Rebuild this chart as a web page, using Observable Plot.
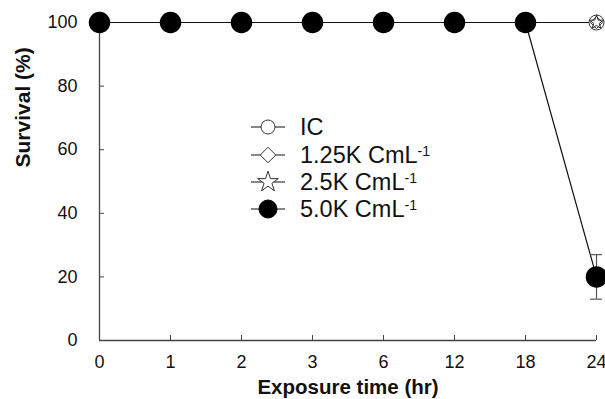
<!DOCTYPE html>
<html>
<head>
<meta charset="utf-8">
<script src="https://cdn.jsdelivr.net/npm/d3@7"></script>
<script src="https://cdn.jsdelivr.net/npm/@observablehq/plot@0.6"></script>
<style>
  html, body { margin: 0; padding: 0; background: #fff; }
  #wrap { position: relative; width: 605px; height: 399px; font-family: "Liberation Sans", Arial, sans-serif; }
  #legend { position: absolute; left: 0; top: 0; }
</style>
</head>
<body>
<div id="wrap"></div>
<script>
const times = ["0", "1", "2", "3", "6", "12", "18", "24"];
const seriesNames = ["IC", "1.25K CmL", "2.5K CmL", "5.0K CmL"];
const icValues = [100, 100, 100, 100, 100, 100, 100, 100];
const k125Values = [100, 100, 100, 100, 100, 100, 100, 100];
const k25Values = [100, 100, 100, 100, 100, 100, 100, 100];
const k50Values = [100, 100, 100, 100, 100, 100, 100, 20];
const k50Errors = [0, 0, 0, 0, 0, 0, 0, 7];
const yTicks = [0, 20, 40, 60, 80, 100];

const toRows = (name, vals, errs) => times.map((t, i) => ({
  series: name, time: t, value: vals[i], err: errs ? errs[i] : 0
}));
const icRows = toRows("IC", icValues);
const k125Rows = toRows("1.25K CmL", k125Values);
const k25Rows = toRows("2.5K CmL", k25Values);
const k50Rows = toRows("5.0K CmL", k50Values, k50Errors);
const errRows = k50Rows.filter(d => d.err > 0);

const font = "Liberation Sans, Arial, sans-serif";
const axisColor = "#444";

const plot = Plot.plot({
  width: 605,
  height: 399,
  marginLeft: 99,
  marginRight: 9,
  marginTop: 22,
  marginBottom: 59,
  style: { fontFamily: font, fontSize: "18px", color: "#111", background: "white" },
  x: { type: "point", domain: times, padding: 0, label: null },
  y: { domain: [0, 100], label: null },
  marks: [
    Plot.ruleY([0], { stroke: axisColor, strokeWidth: 1.3 }),
    Plot.ruleX([times[0]], { stroke: axisColor, strokeWidth: 1.3 }),
    Plot.axisX({ tickSize: -5, tickPadding: 20, stroke: axisColor, fontSize: 18, label: null }),
    Plot.axisY({ ticks: yTicks, tickSize: -5, tickPadding: 27, stroke: axisColor, fontSize: 18, label: null }),
    Plot.text(["Exposure time (hr)"], { frameAnchor: "bottom", dy: 47, text: d => d, fontWeight: "bold", fontSize: 20.5, lineAnchor: "middle" }),
    Plot.text(["Survival (%)"], { frameAnchor: "left", dx: -76, dy: -14, rotate: -90, text: d => d, fontWeight: "bold", fontSize: 21 }),
    // lines
    Plot.line(icRows, { x: "time", y: "value", stroke: "#111", strokeWidth: 1.2 }),
    Plot.line(k125Rows, { x: "time", y: "value", stroke: "#111", strokeWidth: 1.2 }),
    Plot.line(k25Rows, { x: "time", y: "value", stroke: "#111", strokeWidth: 1.2 }),
    Plot.line(k50Rows, { x: "time", y: "value", stroke: "#111", strokeWidth: 1.2 }),
    // error bars
    Plot.ruleX(errRows, { x: "time", y1: d => d.value - d.err, y2: d => d.value + d.err, stroke: "#555", strokeWidth: 1.2 }),
    Plot.ruleY(errRows, { x1: "time", x2: "time", y: d => d.value + d.err, insetLeft: -6, insetRight: -6, stroke: "#555", strokeWidth: 1.2 }),
    Plot.ruleY(errRows, { x1: "time", x2: "time", y: d => d.value - d.err, insetLeft: -6, insetRight: -6, stroke: "#555", strokeWidth: 1.2 }),
    // open markers
    Plot.dot(icRows, { x: "time", y: "value", symbol: "circle", r: 7.5, stroke: "#333", fill: "white", strokeWidth: 1 }),
    Plot.dot(k125Rows, { x: "time", y: "value", symbol: "diamond2", r: 5.5, stroke: "#333", fill: "none", strokeWidth: 1 }),
    Plot.dot(k25Rows, { x: "time", y: "value", symbol: "star", r: 4.5, stroke: "#333", fill: "none", strokeWidth: 1 }),
    // filled markers
    Plot.dot(k50Rows, { x: "time", y: "value", symbol: "circle", r: 10, fill: "black", stroke: "black" })
  ]
});

const wrap = document.getElementById("wrap");
wrap.appendChild(plot);

// legend overlay
const legendItems = [
  { label: "IC", sup: false, type: d3.symbolCircle, r: 7, fill: "white" },
  { label: "1.25K CmL", sup: true, type: d3.symbolDiamond2, r: 7, fill: "white" },
  { label: "2.5K CmL", sup: true, type: d3.symbolStar, r: 6.5, fill: "white" },
  { label: "5.0K CmL", sup: true, type: d3.symbolCircle, r: 9, fill: "black" }
];
const lsvg = d3.select(wrap).append("svg")
  .attr("id", "legend")
  .attr("width", 605).attr("height", 399)
  .style("pointer-events", "none");
const rowY = [127, 155, 182, 209];
legendItems.forEach((it, i) => {
  const g = lsvg.append("g").attr("transform", `translate(0,${rowY[i]})`);
  g.append("line").attr("x1", 251).attr("x2", 285).attr("y1", 0).attr("y2", 0)
    .attr("stroke", "#111").attr("stroke-width", 1.2);
  g.append("path").attr("transform", "translate(268,0)")
    .attr("d", d3.symbol(it.type, Math.PI * it.r * it.r)())
    .attr("fill", it.fill).attr("stroke", it.fill === "black" ? "black" : "#333").attr("stroke-width", 1);
  const t = g.append("text").attr("x", 300).attr("y", 0).attr("dy", "0.36em")
    .attr("font-family", font).attr("font-size", 23.5).attr("fill", "#111").text(it.label);
  if (it.sup) {
    t.append("tspan").attr("font-size", 14).attr("dy", "-0.5em").text("-1");
  }
});
</script>
</body>
</html>
